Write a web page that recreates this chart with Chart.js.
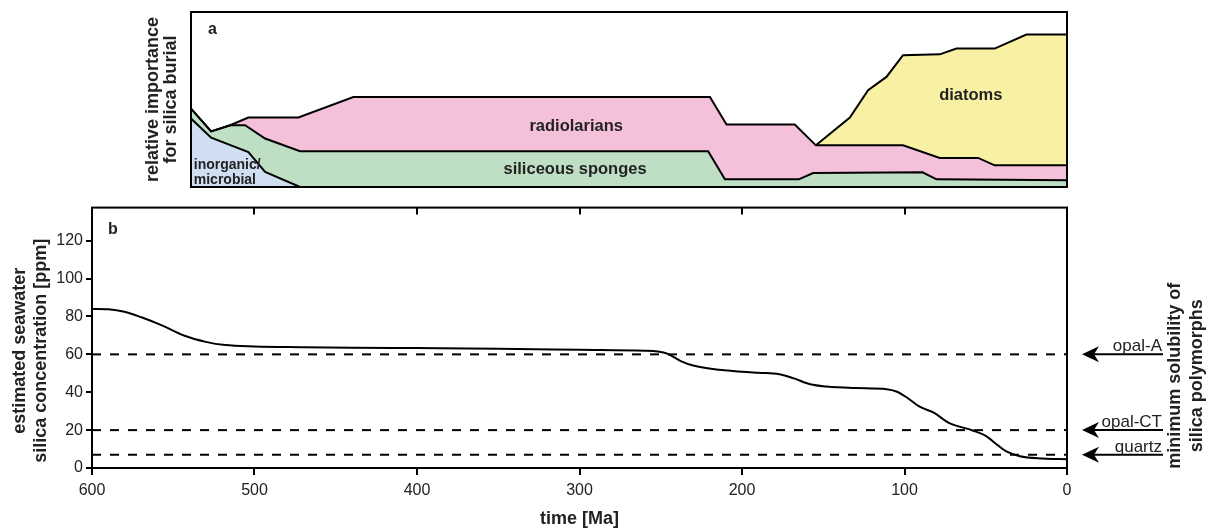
<!DOCTYPE html>
<html>
<head>
<meta charset="utf-8">
<script src="https://cdn.jsdelivr.net/npm/chart.js@4.4.1/dist/chart.umd.min.js"></script>
<style>
  body { margin: 0; background: #fff; }
  #wrap { position: relative; width: 1211px; height: 531px; }
  canvas { position: absolute; left: 0; }
  #burialChart { top: 0; }
  #silicaChart { top: 195px; }
</style>
</head>
<body>
<div id="wrap">
  <canvas id="burialChart" width="1211" height="195"></canvas>
  <canvas id="silicaChart" width="1211" height="336"></canvas>
</div>
<script>
// (a) upper edge of each group, stacked (time in Ma, share of silica burial 0-100)
const inorganicTime = [539, 526.6, 503.7, 493.4, 471.9, 0];
const inorganicTop  = [39.1, 28.2, 20.0, 8.6, 0, 0];
const spongeTime = [539, 526.6, 514.9, 505.7, 493.4, 471.9, 220.8, 210.5, 165, 156.2, 88.9, 80.3, 0];
const spongeTop  = [44.8, 31.8, 35.3, 35.3, 27.7, 20.4, 20.4, 4.4, 4.4, 8.0, 8.4, 4.4, 3.8];
const radiolarianTime = [539, 526.6, 514.9, 503.7, 472.9, 439.1, 219.7, 209.5, 167.5, 154.5, 100.9, 78.3, 54.7, 44.5, 0];
const radiolarianTop  = [44.8, 31.8, 35.3, 39.7, 39.7, 51.4, 51.4, 35.7, 35.7, 23.8, 23.8, 16.6, 16.6, 12.4, 12.4];
const diatomTime = [154.5, 133.6, 122.4, 111.1, 100.9, 78.3, 68.0, 44.5, 25.0, 0];
const diatomTop  = [23.8, 39.7, 55.3, 62.9, 75.3, 75.8, 79.1, 79.1, 87.1, 87.1];

// (b) estimated seawater silica concentration
const silicaTime = [600, 590, 580, 570, 557, 543, 530, 518, 500, 470, 440, 400, 350, 300, 260, 252, 246, 238, 230, 214,
                    190, 177, 168, 158, 148, 130, 111, 105, 99, 91, 82, 73, 58, 50, 43, 37, 29, 15, 0];
const silicaPpm  = [84, 83.8, 82.5, 79.7, 75.3, 69.8, 66.6, 64.9, 64.2, 63.8, 63.5, 63.3, 63, 62.4, 61.9, 61.5, 60.4, 56.6, 54.1, 51.9,
                    50.3, 49.5, 47.3, 44.2, 43, 42.2, 41.6, 40.4, 37.5, 32.5, 29.2, 24.0, 19.8, 17, 12.3, 8.6, 6.2, 5.0, 4.6];

// minimum solubility of silica polymorphs [ppm]
const polymorphs = ['opal-A', 'opal-CT', 'quartz'];
const solubility = [60, 20, 7];

const timeTicks = [0, 100, 200, 300, 400, 500, 600];
const ppmTicks = [0, 20, 40, 60, 80, 100, 120];

Chart.defaults.font.family = '"Liberation Sans", Arial, sans-serif';
Chart.defaults.color = '#222';

const FONT = '"Liberation Sans", Arial, sans-serif';

function toPoints(xs, ys) {
  return xs.map((x, i) => ({ x: x, y: ys[i] }));
}

function layer(label, xs, ys, color, fill) {
  return {
    label: label,
    data: toPoints(xs, ys),
    borderColor: '#000',
    borderWidth: 2,
    backgroundColor: color,
    fill: fill,
    pointRadius: 0,
    tension: 0
  };
}

// texto e moldura do painel a
const burialDecor = {
  id: 'burialDecor',
  afterDraw(chart) {
    const { ctx, chartArea: a, scales: { x, y } } = chart;
    ctx.save();
    ctx.strokeStyle = '#000';
    ctx.lineWidth = 2;
    ctx.strokeRect(a.left, a.top, a.right - a.left, a.bottom - a.top);

    ctx.fillStyle = '#222';
    ctx.textBaseline = 'alphabetic';
    ctx.font = 'bold 16px ' + FONT;
    ctx.textAlign = 'left';
    ctx.fillText('a', a.left + 17, a.top + 22);

    const groupLabels = [
      { text: 'radiolarians', t: 302, v: 31.8, align: 'center', size: 16.5 },
      { text: 'siliceous sponges', t: 302.7, v: 7.7, align: 'center', size: 16.5 },
      { text: 'diatoms', t: 59.2, v: 49.5, align: 'center', size: 16.5 },
      { text: 'inorganic/', t: 537.3, v: 10.1, align: 'left', size: 14 },
      { text: 'microbial', t: 537.3, v: 1.9, align: 'left', size: 14 }
    ];
    groupLabels.forEach(l => {
      ctx.font = 'bold ' + l.size + 'px ' + FONT;
      ctx.textAlign = l.align;
      ctx.fillText(l.text, x.getPixelForValue(l.t), y.getPixelForValue(l.v));
    });
    ctx.restore();
  }
};

// moldura, setas e títulos extras do painel b
const silicaDecor = {
  id: 'silicaDecor',
  afterDraw(chart) {
    const { ctx, chartArea: a, scales: { x, y } } = chart;
    ctx.save();
    ctx.strokeStyle = '#000';
    ctx.fillStyle = '#000';
    ctx.lineWidth = 2;
    ctx.strokeRect(a.left, a.top, a.right - a.left, a.bottom - a.top);

    // ticks on the top edge point inwards
    timeTicks.forEach(t => {
      const px = Math.round(x.getPixelForValue(t));
      ctx.beginPath();
      ctx.moveTo(px, a.top);
      ctx.lineTo(px, a.top + 7);
      ctx.stroke();
    });

    // arrows for the solubility limits
    const tip = a.right + 15;
    const tail = a.right + 96;
    solubility.forEach((v, i) => {
      const py = y.getPixelForValue(v);
      ctx.beginPath();
      ctx.moveTo(tail, py);
      ctx.lineTo(tip + 10, py);
      ctx.stroke();
      ctx.beginPath();
      ctx.moveTo(tip, py);
      ctx.lineTo(tip + 17, py - 8);
      ctx.lineTo(tip + 12, py);
      ctx.lineTo(tip + 17, py + 8);
      ctx.closePath();
      ctx.fill();

      ctx.fillStyle = '#222';
      ctx.font = '17px ' + FONT;
      ctx.textAlign = 'right';
      ctx.textBaseline = 'alphabetic';
      ctx.fillText(polymorphs[i], tail - 1, py - 3);
      ctx.fillStyle = '#000';
    });

    ctx.fillStyle = '#222';
    ctx.font = 'bold 16px ' + FONT;
    ctx.textAlign = 'left';
    ctx.textBaseline = 'alphabetic';
    ctx.fillText('b', a.left + 16, a.top + 26);

    // y-axis titles, rotated
    ctx.font = 'bold 18px ' + FONT;
    ctx.textAlign = 'center';
    ctx.textBaseline = 'middle';
    const midY = (a.top + a.bottom) / 2;
    ctx.save();
    ctx.translate(30.3, midY + 13);
    ctx.rotate(-Math.PI / 2);
    ctx.fillText('estimated seawater', 0, -10.5);
    ctx.fillText('silica concentration [ppm]', 0, 10.5);
    ctx.restore();

    ctx.save();
    ctx.translate(a.right + 119, midY + 38);
    ctx.rotate(-Math.PI / 2);
    ctx.fillText('minimum solubility of', 0, -11);
    ctx.fillText('silica polymorphs', 0, 11);
    ctx.restore();

    ctx.restore();
  }
};

new Chart(document.getElementById('burialChart'), {
  type: 'line',
  data: {
    datasets: [
      layer('inorganic/microbial', inorganicTime, inorganicTop, '#cfdff1', 'origin'),
      layer('siliceous sponges', spongeTime, spongeTop, '#bfdfc4', '-1'),
      layer('radiolarians', radiolarianTime, radiolarianTop, '#f5c1da', '-1'),
      layer('diatoms', diatomTime, diatomTop, '#f8f1a3', '-1')
    ]
  },
  options: {
    responsive: false,
    animation: false,
    devicePixelRatio: 1,
    layout: { padding: { left: 144, right: 144, top: 12, bottom: 8 } },
    plugins: {
      legend: { display: false },
      tooltip: { enabled: false },
      filler: { drawTime: 'beforeDatasetsDraw' }
    },
    scales: {
      x: { type: 'linear', reverse: true, min: 0, max: 539, display: false },
      y: {
        min: 0,
        max: 100,
        afterFit: s => { s.width = 47; },
        ticks: { display: false },
        grid: { display: false },
        border: { display: false },
        title: {
          display: true,
          text: ['relative importance', 'for silica burial'],
          font: { size: 18, weight: 'bold', lineHeight: 1.0 },
          color: '#222',
          padding: 0
        }
      }
    }
  },
  plugins: [burialDecor]
});

new Chart(document.getElementById('silicaChart'), {
  type: 'line',
  data: {
    datasets: [
      {
        label: 'silica concentration',
        data: toPoints(silicaTime, silicaPpm),
        borderColor: '#000',
        borderWidth: 2,
        pointRadius: 0,
        cubicInterpolationMode: 'monotone',
        fill: false
      },
      ...solubility.map((v, i) => ({
        label: polymorphs[i],
        data: [{ x: timeTicks[timeTicks.length - 1], y: v }, { x: timeTicks[0], y: v }],
        borderColor: '#000',
        borderWidth: 2,
        borderDash: [9, 9],
        pointRadius: 0,
        fill: false
      }))
    ]
  },
  options: {
    responsive: false,
    animation: false,
    devicePixelRatio: 1,
    layout: { padding: { left: 0, right: 144, top: 9, bottom: 0 } },
    plugins: {
      legend: { display: false },
      tooltip: { enabled: false }
    },
    scales: {
      x: {
        type: 'linear',
        reverse: true,
        min: 0,
        max: 600,
        afterBuildTicks: s => { s.ticks = timeTicks.map(v => ({ value: v })); },
        afterFit: s => { s.height = 63; },
        ticks: { font: { size: 16 }, color: '#222', padding: 6, maxRotation: 0, autoSkip: false },
        grid: { drawOnChartArea: false, drawTicks: true, tickLength: 7, color: '#000', lineWidth: 2 },
        border: { display: true, color: '#000', width: 2 },
        title: {
          display: true,
          text: 'time [Ma]',
          font: { size: 18, weight: 'bold', lineHeight: 1.2 },
          color: '#222',
          padding: { top: 0, bottom: 1 }
        }
      },
      y: {
        min: 0,
        max: 137.5,
        afterBuildTicks: s => { s.ticks = ppmTicks.map(v => ({ value: v })); },
        afterFit: s => { s.width = 92; },
        ticks: { font: { size: 16 }, color: '#222', padding: 3 },
        grid: { drawOnChartArea: false, drawTicks: true, tickLength: 6, color: '#000', lineWidth: 2 },
        border: { display: true, color: '#000', width: 2 }
      }
    }
  },
  plugins: [silicaDecor]
});
</script>
</body>
</html>
